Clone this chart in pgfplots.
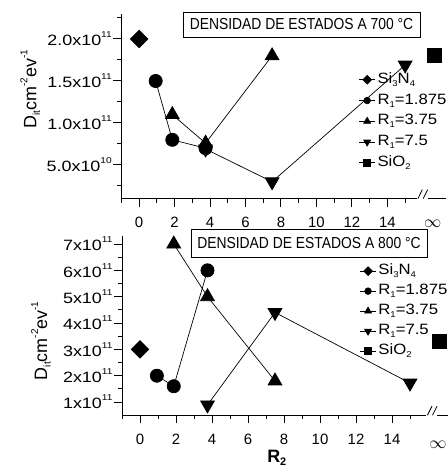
\documentclass[border=0pt]{standalone}
\usepackage{pgfplots}
\pgfplotsset{compat=1.18}
\usepackage{fontspec}
\setmainfont{Liberation Sans}
\newfontfamily\widefont[FakeStretch=1.2]{Liberation Sans}
\newfontfamily\legfont[FakeStretch=1.12]{Liberation Sans}
\newfontfamily\narrowfont[FakeStretch=0.87]{Liberation Sans}
\newcommand\sups[1]{\raisebox{8bp}{\fontsize{8.5}{8.5}\selectfont #1}}
\newcommand\subs[1]{\raisebox{-3bp}{\fontsize{8.5}{8.5}\selectfont #1}}
\newcommand\lsups[1]{\raisebox{9bp}{\fontsize{10}{10}\selectfont #1}}
\newcommand\lsubs[1]{\raisebox{-3.5bp}{\fontsize{10}{10}\selectfont #1}}

% 700 C data
\pgfplotstableread{
x y
0 2.0e11
}\TopSiN
\pgfplotstableread{
x y
0.9375 1.5e11
1.875 8.0e10
3.75 7.0e10
}\TopRa
\pgfplotstableread{
x y
1.875 1.1e11
3.75 7.6e10
7.5 1.80e11
}\TopRb
\pgfplotstableread{
x y
3.75 6.9e10
7.5 3.0e10
15 1.69e11
}\TopRc
\pgfplotstableread{
x y
16.65 1.81e11
}\TopSiO

% 800 C data
\pgfplotstableread{
x y
0 3.0e11
}\BotSiN
\pgfplotstableread{
x y
0.9375 2.0e11
1.875 1.6e11
3.75 6.0e11
}\BotRa
\pgfplotstableread{
x y
1.875 7.0e11
3.75 5.0e11
7.5 1.8e11
}\BotRb
\pgfplotstableread{
x y
3.75 0.89e11
7.5 4.4e11
15 1.72e11
}\BotRc
\pgfplotstableread{
x y
16.65 3.3e11
}\BotSiO

\pgfplotsset{
  panel/.style={
    scale only axis,
    axis x line*=bottom, axis y line*=left,
    x axis line style={draw=none},
    y axis line style={line width=1bp},
    xmin=-1, xmax=17.3,
    scaled y ticks=false, scaled x ticks=false,
    xtick={0,2,...,14},
    xticklabels={0,2,4,6,8,10,12,14},
    minor xtick={-1,1,3,...,15},
    tick align=outside,
    major tick length=8bp, minor tick length=4bp,
    every tick/.style={black, line width=1bp},
    xticklabel style={font=\fontsize{15}{15}\selectfont, yshift=-7bp},
    yticklabel style={font=\widefont\fontsize{15}{15}\selectfont, xshift=2bp},
    ylabel={D\lsubs{it}cm\lsups{-2}ev\lsups{-1}},
    clip=false,
    legend cell align=left,
    legend image code/.code={
      \draw[mark repeat=2, mark phase=2, ##1, every mark/.append style={scale=0.5}]
        plot coordinates {(0bp,0bp) (8bp,0bp) (16bp,0bp)};
    },
    every axis plot/.append style={black, line width=0.7bp},
  },
  siN/.style={mark=square*, mark size=6.2bp, mark options={rotate=45}},
  ra/.style={mark=*, mark size=6.6bp},
  rb/.style={mark=triangle*, mark size=8bp},
  rc/.style={mark=triangle*, mark size=8bp, mark options={rotate=180}},
  sio/.style={mark=square*, mark size=7bp},
}

\begin{document}
\begin{tikzpicture}
\useasboundingbox (0,0) rectangle (448bp,474bp);

% ---- Top panel: 700 C
\begin{axis}[panel,
  at={(121.3bp,275.4bp)}, anchor=south west,
  width=321.1bp*18.3/18.1, height=184.8bp,
  ymin=1e10, ymax=2.3e11,
  ytick={5e10,1e11,1.5e11,2e11},
  yticklabels={5.0x10\sups{10},1.0x10\sups{11},1.5x10\sups{11},2.0x10\sups{11}},
  minor ytick={2.5e10,7.5e10,1.25e11,1.75e11,2.25e11},
  ylabel style={font=\fontsize{18}{18}\selectfont, at={(axis description cs:-0.281,0.593)}, anchor=center},
  legend style={draw=none, fill=none, at={(axis description cs:0.731,0.69)}, anchor=north west,
    inner sep=0pt, row sep=3.75bp, column sep=1bp,
    font=\legfont\fontsize{15}{15}\selectfont,
    nodes={inner sep=1bp, text height=11bp, text depth=4bp}},
]
\addplot[siN] table {\TopSiN};
\addlegendentry{Si\subs{3}N\subs{4}}
\addplot[ra] table {\TopRa};
\addlegendentry{R\subs{1}=1.875}
\addplot[rb] table {\TopRb};
\addlegendentry{R\subs{1}=3.75}
\addplot[rc] table {\TopRc};
\addlegendentry{R\subs{1}=7.5}
\addplot[sio] table {\TopSiO};
\addlegendentry{SiO\subs{2}}
\draw[line width=1bp] (axis cs:-1,1e10) -- (axis cs:15.65,1e10);
\draw[line width=1bp] (axis cs:16.3,1e10) -- (axis cs:17.3,1e10);
\draw[line width=0.8bp] (axis cs:15.72,1e10) -- ([yshift=9bp]axis cs:15.97,1e10);
\draw[line width=0.8bp] (axis cs:16.02,1e10) -- ([yshift=9bp]axis cs:16.27,1e10);
\node[font=\fontsize{16}{16}\selectfont, inner sep=0pt, anchor=center]
  at ([yshift=-25bp]axis cs:16.56,1e10) {$\infty$};
\end{axis}

% ---- Bottom panel: 800 C
\begin{axis}[panel,
  at={(122bp,58.8bp)}, anchor=south west,
  width=325.8bp*18.3/18.1, height=179.1bp,
  ymin=0.5e11, ymax=7.3e11,
  ytick={1e11,2e11,3e11,4e11,5e11,6e11,7e11},
  yticklabels={1x10\sups{11},2x10\sups{11},3x10\sups{11},4x10\sups{11},5x10\sups{11},6x10\sups{11},7x10\sups{11}},
  minor ytick={1.5e11,2.5e11,3.5e11,4.5e11,5.5e11,6.5e11},
  ylabel style={font=\fontsize{18}{18}\selectfont, at={(axis description cs:-0.246,0.415)}, anchor=center},
  xlabel={\bfseries R\raisebox{-3bp}{\fontsize{11}{11}\selectfont 2}},
  xlabel style={font=\fontsize{18}{18}\selectfont, at={(ticklabel cs:0.47)}, yshift=0.5bp},
  legend style={draw=none, fill=none, at={(axis description cs:0.721,0.853)}, anchor=north west,
    inner sep=0pt, row sep=3bp, column sep=1bp,
    font=\legfont\fontsize{15}{15}\selectfont,
    nodes={inner sep=1bp, text height=11bp, text depth=4bp}},
]
\addplot[siN] table {\BotSiN};
\addlegendentry{Si\subs{3}N\subs{4}}
\addplot[ra] table {\BotRa};
\addlegendentry{R\subs{1}=1.875}
\addplot[rb] table {\BotRb};
\addlegendentry{R\subs{1}=3.75}
\addplot[rc] table {\BotRc};
\addlegendentry{R\subs{1}=7.5}
\addplot[sio] table {\BotSiO};
\addlegendentry{SiO\subs{2}}
\draw[line width=1bp] (axis cs:-1,0.5e11) -- (axis cs:15.9,0.5e11);
\draw[line width=1bp] (axis cs:16.5,0.5e11) -- (axis cs:17.3,0.5e11);
\draw[line width=0.8bp] (axis cs:15.97,0.5e11) -- ([yshift=9bp]axis cs:16.22,0.5e11);
\draw[line width=0.8bp] (axis cs:16.25,0.5e11) -- ([yshift=9bp]axis cs:16.5,0.5e11);
\node[font=\fontsize{16}{16}\selectfont, inner sep=0pt, anchor=center]
  at ([yshift=-30bp]axis cs:16.56,0.5e11) {$\infty$};
\end{axis}

% ---- Title boxes
\node[draw, line width=0.8bp, font=\narrowfont\fontsize{16}{16}\selectfont,
  minimum width=237bp, minimum height=25bp, inner sep=0pt]
  at (301.5bp,449.5bp) {DENSIDAD DE ESTADOS A 700 °C};
\node[draw, line width=0.8bp, fill=white, font=\narrowfont\fontsize{16}{16}\selectfont,
  minimum width=236bp, minimum height=28bp, inner sep=0pt]
  at (309bp,230.5bp) {DENSIDAD DE ESTADOS A 800 °C};
\end{tikzpicture}
\end{document}
